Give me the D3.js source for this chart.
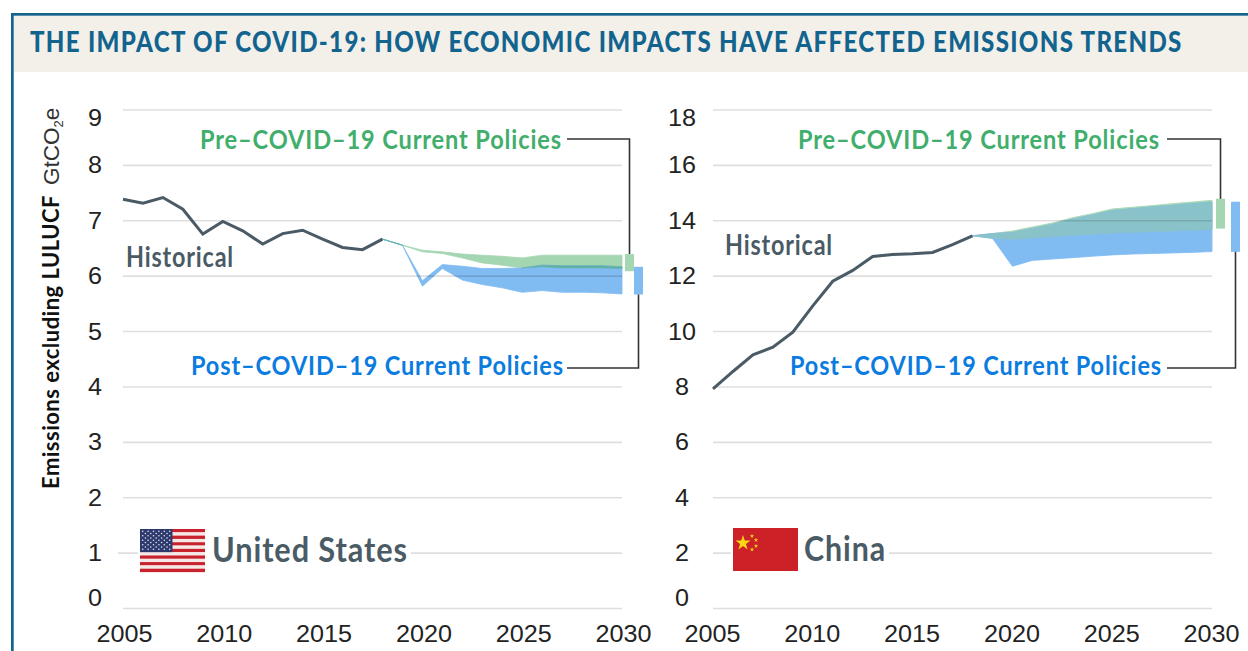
<!DOCTYPE html>
<html>
<head>
<meta charset="utf-8">
<script src="https://cdn.jsdelivr.net/npm/d3@7"></script>
<style>
  html, body { margin: 0; padding: 0; background: #fff; }
  svg { display: block; }
</style>
</head>
<body>
<svg id="chart" width="1248" height="651"></svg>
<script>
// values, GtCO2e
const histYears = d3.range(2005, 2019);
const fcYears = d3.range(2018, 2031);
const xTicks = [2005, 2010, 2015, 2020, 2025, 2030];

const usTicks = [0, 1, 2, 3, 4, 5, 6, 7, 8, 9];
const usHist = [7.38, 7.31, 7.41, 7.2, 6.75, 6.98, 6.81, 6.57, 6.76, 6.82, 6.66, 6.51, 6.47, 6.66];
const usPreUp = [6.66, 6.55, 6.46, 6.43, 6.39, 6.37, 6.35, 6.32, 6.37, 6.37, 6.37, 6.37, 6.37];
const usPreLo = [6.66, 6.55, 6.43, 6.4, 6.32, 6.23, 6.19, 6.14, 6.16, 6.14, 6.14, 6.14, 6.13];
const usPostUp = [6.66, 6.55, 5.91, 6.2, 6.17, 6.13, 6.13, 6.14, 6.19, 6.18, 6.18, 6.18, 6.16];
const usPostLo = [6.66, 6.55, 5.81, 6.13, 5.92, 5.84, 5.78, 5.7, 5.73, 5.7, 5.7, 5.69, 5.67];
const usPreBar = [6.08, 6.39];
const usPostBar = [5.66, 6.16];

const cnTicks = [0, 2, 4, 6, 8, 10, 12, 14, 16, 18];
const cnHist = [7.91, 8.54, 9.14, 9.42, 9.96, 10.91, 11.8, 12.19, 12.69, 12.76, 12.79, 12.84, 13.12, 13.44];
const cnPreUp = [13.44, 13.52, 13.61, 13.76, 13.9, 14.09, 14.24, 14.41, 14.47, 14.53, 14.6, 14.66, 14.72];
const cnPreLo = [13.44, 13.35, 13.31, 13.36, 13.41, 13.46, 13.5, 13.54, 13.56, 13.59, 13.61, 13.64, 13.67];
const cnPostUp = [13.44, 13.52, 13.56, 13.7, 13.85, 14.04, 14.19, 14.35, 14.42, 14.48, 14.54, 14.6, 14.66];
const cnPostLo = [13.44, 13.35, 12.34, 12.55, 12.6, 12.65, 12.7, 12.75, 12.78, 12.8, 12.82, 12.84, 12.87];
const cnPreBar = [13.7, 14.78];
const cnPostBar = [12.86, 14.67];

const titleText = "THE IMPACT OF COVID-19: HOW ECONOMIC IMPACTS HAVE AFFECTED EMISSIONS TRENDS";

const blue = "#12648f";
const green = "#41ae6c";
const postBlue = "#0a7ce0";
const greenBand = "#a5d6b2";
const blueBand = "#80bbf2";
const slate = "#4a5b66";
// no condensed face is installed, so Lato gets squeezed with textLength
const narrow = "Lato, 'Liberation Sans', sans-serif";
const sans = "'Liberation Sans', sans-serif";

const svg = d3.select("#chart");

// frame and title band
svg.append("rect").attr("x", 13.5).attr("y", 15.5).attr("width", 1235).attr("height", 56.5).attr("fill", "#f3f0ea");
svg.append("rect").attr("x", 11).attr("y", 13).attr("width", 1237).attr("height", 2.7).attr("fill", blue);
svg.append("rect").attr("x", 11).attr("y", 13).attr("width", 2.7).attr("height", 638).attr("fill", blue);
// title squeezed with a transform, textLength here got flagged as running off the page
const title = svg.append("text")
  .style("font", "900 27.5px " + narrow)
  .style("letter-spacing", "1.5px")
  .style("fill", blue)
  .text(titleText);
title.attr("transform", "translate(30,52) scale(" + 1153 / title.node().getComputedTextLength() + ",1)");

// rotated y title
const yTitle = svg.append("g").attr("transform", "translate(59,489) rotate(-90)");
yTitle.append("text")
  .attr("textLength", 294).attr("lengthAdjust", "spacingAndGlyphs")
  .style("font", "bold 23px " + narrow)
  .style("letter-spacing", "0.5px")
  .style("fill", "#111")
  .text("Emissions excluding LULUCF");
const unit = yTitle.append("text").attr("x", 304).style("font", "22.5px " + sans).style("fill", "#333");
unit.append("tspan").text("GtCO");
unit.append("tspan").attr("dy", 4).style("font-size", "13px").text("2");
unit.append("tspan").attr("dy", -4).text("e");

function drawPanel(p) {
  const x = d3.scaleLinear().domain([2005, 2030]).range([p.left, p.left + 499]);
  const y = d3.scaleLinear().domain([0, p.yMax]).range([608, 109.5]);
  const g = svg.append("g");

  const band = (up, lo) => d3.area()
    .x(d => x(d))
    .y0((d, i) => y(lo[i]))
    .y1((d, i) => y(up[i]));

  g.append("path").datum(fcYears)
    .attr("d", band(p.preUp, p.preLo))
    .attr("fill", greenBand).attr("stroke", greenBand).attr("stroke-width", 0.8);
  g.append("path").datum(fcYears)
    .attr("d", band(p.postUp, p.postLo))
    .attr("fill", blueBand).attr("stroke", blueBand).attr("stroke-width", 0.8);

  // where the two ranges overlap
  const overlap = d3.area()
    .defined((d, i) => Math.min(p.preUp[i], p.postUp[i]) >= Math.max(p.preLo[i], p.postLo[i]))
    .x(d => x(d))
    .y0((d, i) => y(Math.max(p.preLo[i], p.postLo[i])))
    .y1((d, i) => y(Math.min(p.preUp[i], p.postUp[i])));
  g.append("path").datum(fcYears)
    .attr("d", overlap)
    .attr("fill", p.overlapColor).attr("stroke", p.overlapColor).attr("stroke-width", 0.6);

  // gridlines go over the bands, they show through in the reference
  const grid = g.append("g")
    .attr("transform", "translate(" + p.left + ",0)")
    .call(d3.axisLeft(y).tickValues(p.ticks).tickSize(-499).tickFormat(""));
  grid.select(".domain").remove();
  grid.selectAll("line")
    .attr("x1", d => d == p.longTick ? -5 : 0)
    .attr("stroke", "#000").attr("stroke-opacity", 0.13).attr("stroke-width", 1.6);

  g.append("path").datum(histYears)
    .attr("d", d3.line().x(d => x(d)).y((d, i) => y(p.hist[i])))
    .attr("fill", "none").attr("stroke", slate).attr("stroke-width", 3).attr("stroke-linejoin", "miter");

  // y labels are centred in a column, top and bottom ones are pulled inward
  const yAxis = g.append("g")
    .attr("transform", "translate(" + p.yLabelX + ",0)")
    .call(d3.axisLeft(y).tickValues(p.ticks).tickSize(0).tickPadding(0));
  yAxis.select(".domain").remove();
  yAxis.selectAll("text")
    .attr("x", 0)
    .attr("dy", d => d == p.yMax ? "0.68em" : d == 0 ? "-0.1em" : "0.35em")
    .attr("textLength", d => String(d).length * 14)
    .attr("lengthAdjust", "spacingAndGlyphs")
    .style("text-anchor", "middle")
    .style("font", "23px " + sans)
    .style("fill", "#222");

  const xAxis = g.append("g")
    .attr("transform", "translate(" + p.xLabelShift + ",625)")
    .call(d3.axisBottom(x).tickValues(xTicks).tickSize(0).tickPadding(0).tickFormat(d3.format("d")));
  xAxis.select(".domain").remove();
  xAxis.selectAll("text")
    .attr("y", 0).attr("dy", "0.75em")
    .attr("textLength", 56)
    .attr("lengthAdjust", "spacingAndGlyphs")
    .style("font", "23px " + sans)
    .style("fill", "#222");

  // range bars beyond 2030 with their leader lines
  const bar = (xPos, range, color) => g.append("rect")
    .attr("x", xPos).attr("width", 9)
    .attr("y", y(range[1])).attr("height", y(range[0]) - y(range[1]))
    .attr("fill", color);
  const leader = (pts) => g.append("path")
    .attr("d", d3.line()(pts))
    .attr("fill", "none").attr("stroke", "#333").attr("stroke-width", 1.6);

  bar(p.preBarX, p.preBar, greenBand);
  bar(p.postBarX, p.postBar, blueBand);
  leader([[p.leaderStart, 139], [p.preBarX + 4.5, 139], [p.preBarX + 4.5, y(p.preBar[1])]]);
  leader([[p.leaderStart, 368], [p.postBarX + 4.5, 368], [p.postBarX + 4.5, y(p.postBar[0])]]);

  // labels
  const label = (str, lx, ly, w, size, color) => g.append("text")
    .attr("x", lx).attr("y", ly)
    .attr("textLength", w).attr("lengthAdjust", "spacingAndGlyphs")
    .style("font", "bold " + size + "px " + narrow)
    .style("letter-spacing", "1px")
    .style("fill", color)
    .text(str);
  label("Pre–COVID–19 Current Policies", p.preX, 149, p.preW, 27, green);
  label("Post–COVID–19 Current Policies", p.postX, 375, p.postW, 27, postBlue);
  label("Historical", p.histX, p.histY, 108, 28, slate);

  // white patch breaks the gridline behind flag and country name
  g.append("rect")
    .attr("x", p.flagX - 2).attr("y", p.flagY - 2)
    .attr("width", p.nameX + p.nameW - p.flagX + 5).attr("height", 47)
    .attr("fill", "#fff");
  p.flag(g, p.flagX, p.flagY);
  label(p.name, p.nameX, p.flagY + 33, p.nameW, 34, slate);
}

function usFlag(g, fx, fy) {
  const stripe = 43 / 13;
  d3.range(13).forEach(i => {
    g.append("rect")
      .attr("x", fx).attr("y", fy + i * stripe)
      .attr("width", 65).attr("height", stripe + 0.1)
      .attr("fill", i % 2 ? "#f4e9e6" : "#c8222c");
  });
  g.append("rect").attr("x", fx).attr("y", fy).attr("width", 32.5).attr("height", stripe * 7).attr("fill", "#2e3a6e");
  d3.range(9).forEach(r => {
    const n = r % 2 ? 5 : 6;
    d3.range(n).forEach(c => {
      g.append("circle")
        .attr("cx", fx + (r % 2 ? 5.4 : 2.7) + c * 5.4)
        .attr("cy", fy + 2.2 + r * 2.25)
        .attr("r", 0.8)
        .attr("fill", "#e4e6f2");
    });
  });
}

function cnFlag(g, fx, fy) {
  g.append("rect").attr("x", fx).attr("y", fy).attr("width", 65).attr("height", 43).attr("fill", "#cb2127");
  const star = (cx, cy, area) => g.append("path")
    .attr("d", d3.symbol(d3.symbolStar, area)())
    .attr("transform", "translate(" + (fx + cx) + "," + (fy + cy) + ")")
    .attr("fill", "#fbd716");
  star(10, 15, 70);
  star(19, 8, 6);
  star(23, 12, 6);
  star(23, 18, 6);
  star(19, 21.5, 6);
}

drawPanel({
  left: 123, yMax: 9, ticks: usTicks, hist: usHist, longTick: 1,
  preUp: usPreUp, preLo: usPreLo, postUp: usPostUp, postLo: usPostLo,
  preBar: usPreBar, postBar: usPostBar, overlapColor: "#62b1a4",
  yLabelX: 95, xLabelShift: 1, preBarX: 625, postBarX: 634, leaderStart: 567,
  preX: 200, preW: 362, postX: 191, postW: 373, histX: 126, histY: 267,
  flag: usFlag, flagX: 140, flagY: 529, name: "United States", nameX: 212, nameW: 196
});

drawPanel({
  left: 713, yMax: 18, ticks: cnTicks, hist: cnHist,
  preUp: cnPreUp, preLo: cnPreLo, postUp: cnPostUp, postLo: cnPostLo,
  preBar: cnPreBar, postBar: cnPostBar, overlapColor: "#8ac2c9",
  yLabelX: 682, xLabelShift: -1, preBarX: 1216, postBarX: 1231, leaderStart: 1167,
  preX: 798, preW: 362, postX: 790, postW: 372, histX: 725, histY: 255,
  flag: cnFlag, flagX: 733, flagY: 528, name: "China", nameX: 804, nameW: 82
});
</script>
</body>
</html>
